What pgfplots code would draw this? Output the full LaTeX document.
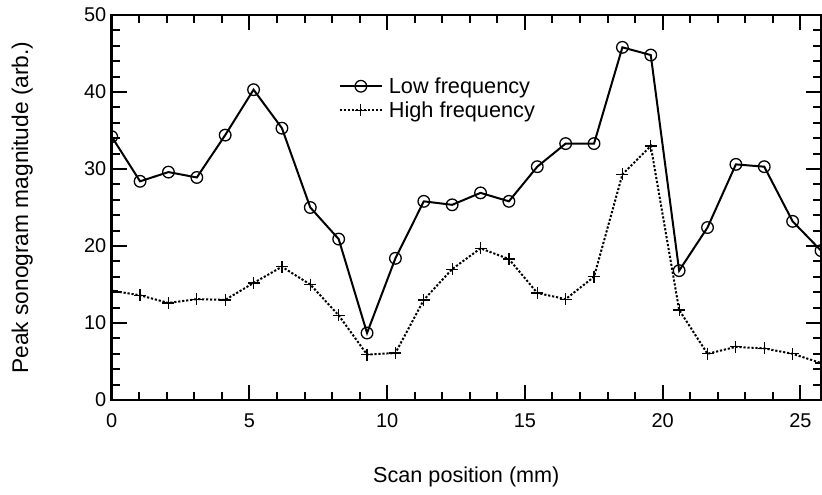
\documentclass[border=0pt]{standalone}
\usepackage{pgfplots}
\pgfplotsset{compat=1.18}
\usepackage{fontspec}
\setmainfont{Liberation Sans}
\newcommand{\tickfont}{\fontsize{20}{24}\selectfont}
\newcommand{\xlabfont}{\fontsize{21.7}{26}\selectfont}
\newcommand{\ylabfont}{\fontsize{22.8}{27}\selectfont}
\newcommand{\legfont}{\fontsize{21.8}{26}\selectfont}
\pgfplotsset{mylegend/.style={legend image code/.code={\draw[##1, mark repeat=2, mark phase=2] plot coordinates {(0bp,0bp) (21bp,0bp) (42bp,0bp)};}}}
\begin{document}
\begin{tikzpicture}
\path[use as bounding box] (-111.7bp,-95bp) rectangle (710.3bp,400bp);
\begin{axis}[
  at={(0,0)}, anchor=south west,
  scale only axis,
  width=709.3bp, height=385bp,
  xmin=0, xmax=25.75, ymin=0, ymax=50,
  xtick={0,5,10,15,20,25}, ytick={0,10,20,30,40,50},
  minor x tick num=4, minor y tick num=4,
  tick align=inside,
  major tick length=15bp, minor tick length=8bp,
  axis line style={line width=2.5bp},
  every tick/.style={line width=2bp, black},
  clip marker paths=true,
  /pgf/number format/assume math mode=true,
  tick label style={font=\tickfont},
  xticklabel style={yshift=-10bp},
  yticklabel style={xshift=-2bp},
  xlabel={Scan position (mm)},
  ylabel={Peak sonogram magnitude (arb.)},
  xlabel style={font=\xlabfont, at={(axis description cs:0.5,-0.213)}, anchor=base},
  ylabel style={font=\ylabfont, at={(axis description cs:-0.118,0.5)}, anchor=base},
  legend style={draw=none, fill=none, font=\legfont, at={(axis description cs:0.32,0.843)}, anchor=north west, row sep=3bp, column sep=4bp, inner sep=0pt, cells={anchor=west}},
  legend cell align=left,
]
\addplot[black, line width=2bp, mark=o, mark size=5.8bp, mark options={line width=1.3bp, solid}, mylegend]
coordinates {
(0,34.2) (1.03,28.4) (2.06,29.6) (3.09,28.9) (4.12,34.4) (5.15,40.3)
(6.18,35.3) (7.21,25.0) (8.24,20.9) (9.27,8.7) (10.30,18.4) (11.33,25.8)
(12.36,25.35) (13.39,26.9) (14.42,25.8) (15.45,30.3) (16.48,33.3) (17.51,33.3)
(18.54,45.8) (19.57,44.8) (20.60,16.8) (21.63,22.4) (22.66,30.6) (23.69,30.3)
(24.72,23.2) (25.75,19.4)
};
\addlegendentry{Low frequency}
\addplot[black, line width=2bp, dash pattern=on 2.2bp off 1.8bp, mark=+, mark size=6bp, mark options={line width=1.2bp, solid}, mylegend]
coordinates {
(0,14.2) (1.03,13.6) (2.06,12.6) (3.09,13.1) (4.12,13.0) (5.15,15.2)
(6.18,17.3) (7.21,15.0) (8.24,11.0) (9.27,5.9) (10.30,6.1) (11.33,13.0)
(12.36,17.0) (13.39,19.7) (14.42,18.3) (15.45,13.9) (16.48,13.1) (17.51,16.0)
(18.54,29.3) (19.57,33.0) (20.60,11.7) (21.63,6.0) (22.66,6.9) (23.69,6.7)
(24.72,6.0) (25.75,4.8)
};
\addlegendentry{High frequency}
\end{axis}
\end{tikzpicture}
\end{document}
